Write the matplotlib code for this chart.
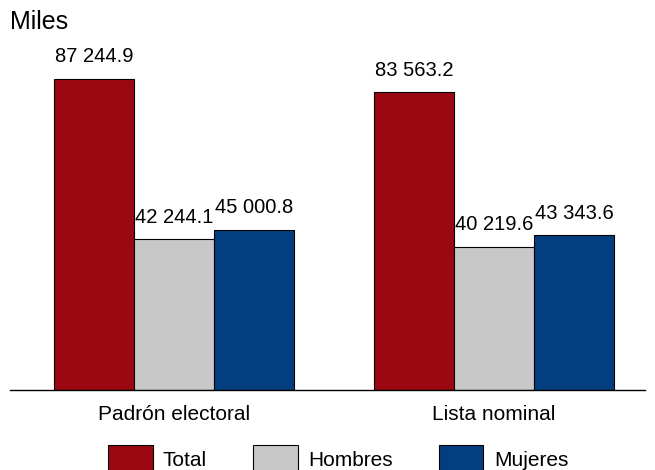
import numpy as np
import matplotlib.pyplot as plt
from matplotlib.patches import Patch

plt.rcParams['font.family'] = ['Liberation Sans', 'DejaVu Sans']

categorias = ['Padrón electoral', 'Lista nominal']
series = ['Total', 'Hombres', 'Mujeres']
total = [87244.9, 83563.2]
hombres = [42244.1, 40219.6]
mujeres = [45000.8, 43343.6]
colores = ['#9b0812', '#c8c8c8', '#033f80']

fig = plt.figure(figsize=(6.55, 4.70), dpi=100)
ax = fig.add_axes([10/655, 80/470, 635/655, 350/470])

x = np.arange(len(categorias))
w = 0.25
for i, (vals, c) in enumerate(zip([total, hombres, mujeres], colores)):
    bars = ax.bar(x + (i - 1) * w, vals, w, color=c, edgecolor='black', linewidth=0.8)
    for b, v in zip(bars, vals):
        txt = '{:,.1f}'.format(v).replace(',', ' ')
        ax.annotate(txt, (b.get_x() + b.get_width() / 2, v), xytext=(0, 9),
                    textcoords='offset points', ha='center', va='bottom', fontsize=14.5)

ax.set_xlim(-0.5125, 1.472)
ax.set_ylim(0, 98177)
ax.set_xticks(x)
ax.set_xticklabels(categorias, fontsize=15)
ax.tick_params(axis='x', length=0, pad=11)
ax.set_yticks([])
for s in ['top', 'right', 'left']:
    ax.spines[s].set_visible(False)
ax.spines['bottom'].set_linewidth(1)

fig.text(10/655, 1 - 22/470, 'Miles', fontsize=18, va='center', ha='left')

handles = [Patch(facecolor=c, edgecolor='black', linewidth=0.8) for c in colores]
fig.legend(handles, series, loc='center', bbox_to_anchor=(338/655, 1 - 459/470), ncol=3,
           frameon=False, fontsize=15, handlelength=2.15, handleheight=1.7,
           handletextpad=0.5, columnspacing=2.2, borderpad=0, borderaxespad=0)

fig.savefig('out.png', dpi=100)
